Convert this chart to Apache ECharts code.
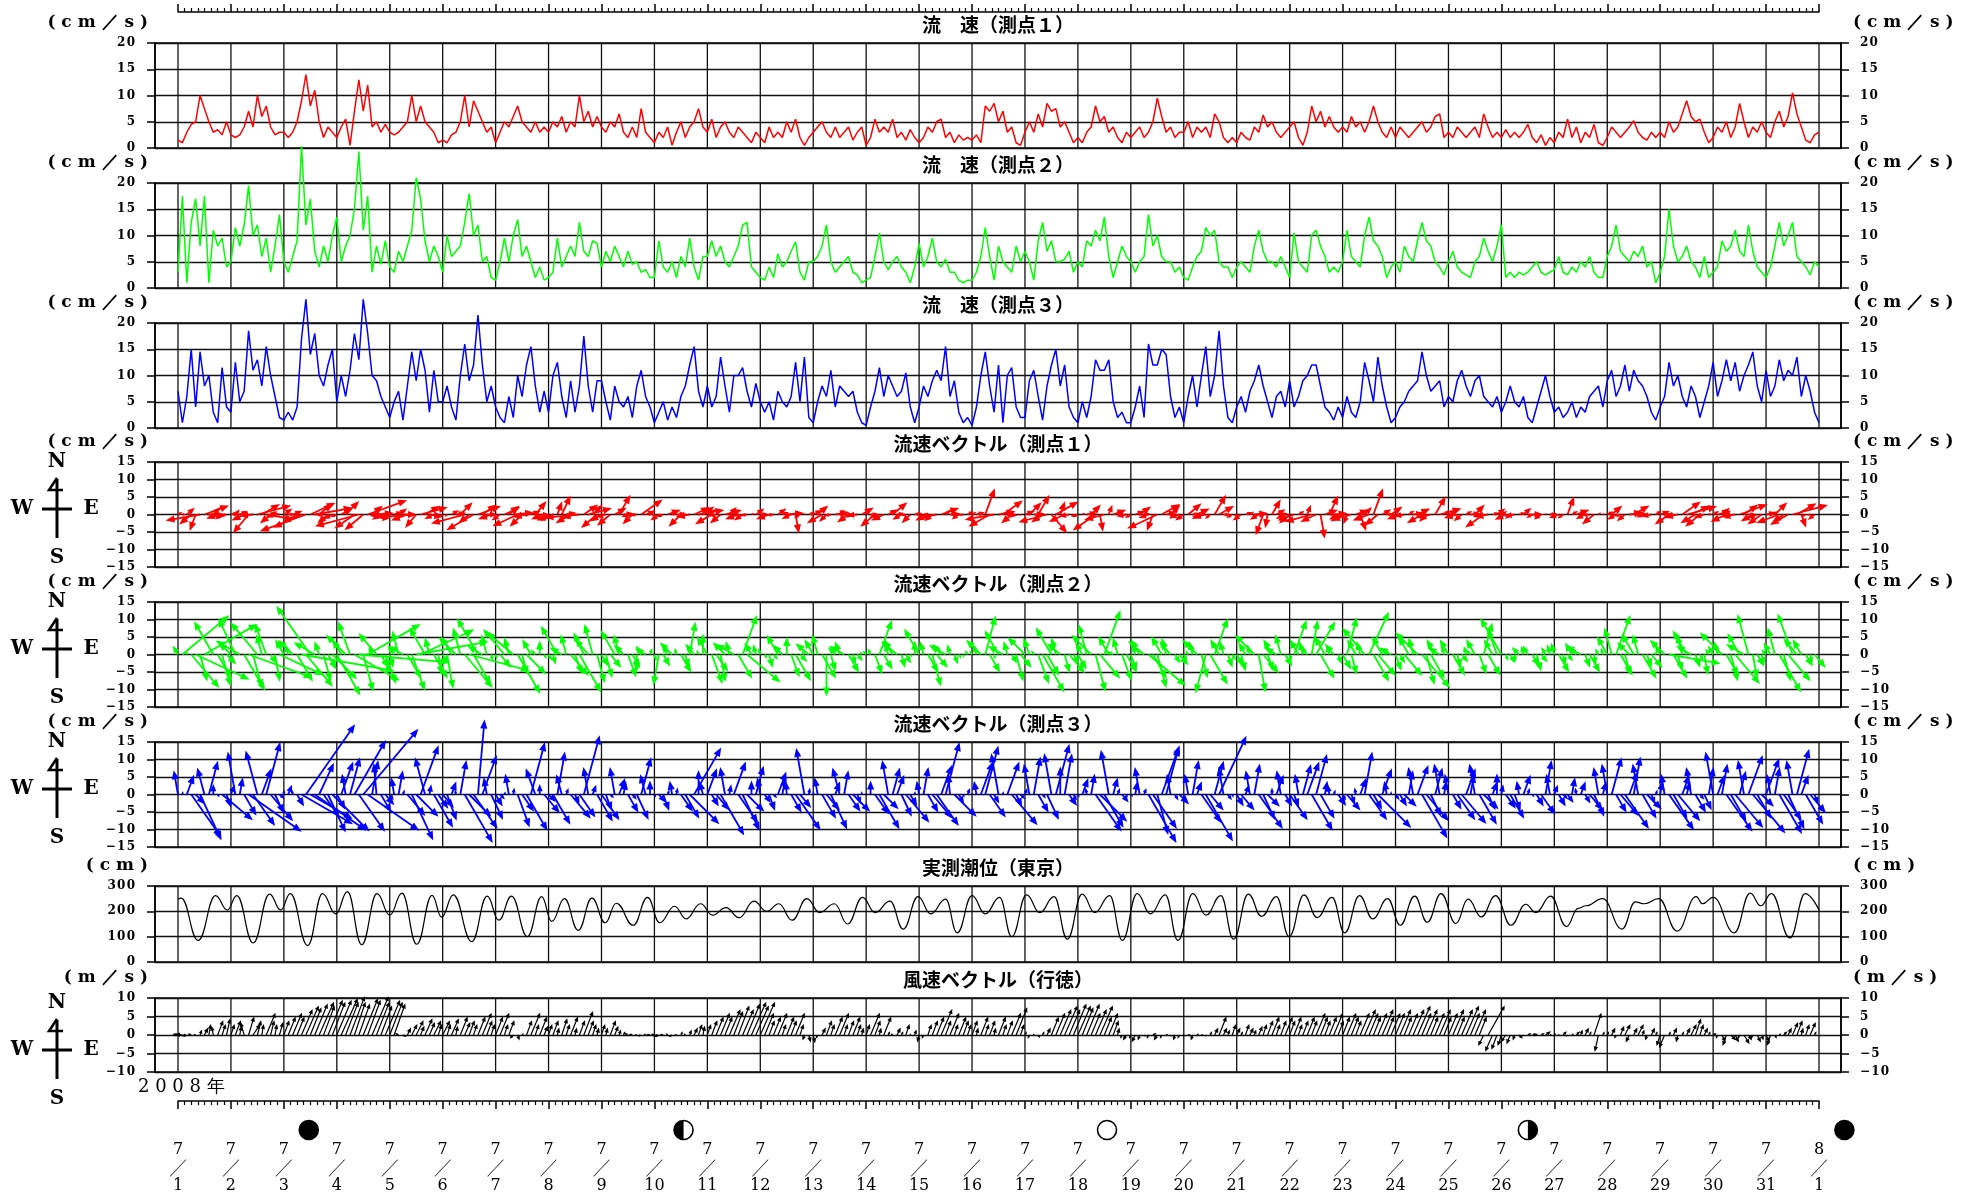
<!DOCTYPE html>
<html><head><meta charset="utf-8">
<script src="https://cdn.jsdelivr.net/npm/echarts/dist/echarts.min.js"></script>
<style>html,body{margin:0;padding:0;background:#fff}#c{width:1970px;height:1200px}</style>
</head><body><div id="c"></div>
<script>
// ---------------- DATA (2-hour samples from 2008-07-01 00:00) ----------------
const dateLabels = ['7/1','7/2','7/3','7/4','7/5','7/6','7/7','7/8','7/9','7/10','7/11','7/12','7/13','7/14','7/15','7/16',
  '7/17','7/18','7/19','7/20','7/21','7/22','7/23','7/24','7/25','7/26','7/27','7/28','7/29','7/30','7/31','8/1'];
const samplesPerDay = 12;

// current speed (cm/s), station 1
const speed1 = [
1.5,1,3,4.5,5,10,7.5,5,3,3.5,2.5,5,
2.5,2,2.5,4,7,4,10,6,8,4,2.5,3,
3,2,3,5,9,14,8,11,5,2,4,3,
2,4,5.5,0.5,7,13,7,12,4,5,3,4.5,
3,2.5,3,4,5,10,5,8,5,4,3,1,
1.5,1,2.5,3,5,10,4,9,7,5,3,4,
1,3,5,4,6,8,5,4,3,5,3,4,
3,5,4,6,3,5,4,10,5,7,4,6,
4,3,5,4,6.5,3,2,4,2,7.5,3,2,
1,3,2,4,0.5,3,5,2,4,5,7.5,4,
3,5.5,2,4,5,3,2,4,3,2,1,3,
2,1,4,2,3,2,5,3,5.5,2,0.5,2,
3,4,5,3,2,4,2,3,4,1.5,3,4,
0.5,2,5.5,3,4,3,5.5,2,3,1.5,3.5,2,
1,2,4,3,5,5.5,2,3,1,2.5,1.5,2,
1.5,2.5,1,8,7,8.5,5,7,3,4,1,0.5,
3,5,3,6.5,4,8.5,7,7.5,4,5,3,1,
2,1,3,4,8,5,6,3,4,2,1,3,
2,3,4,2,3,5,9.5,6,3,4,2,3,
3,5,2,4,3,4,2,6.5,5,2,1,2,
1,3,2,1.5,4,3,6.3,4,5,3,2,3,
4,5,2,0.5,3,8,5,7,4,6,4,3,
4,3,6,4,5,3,5,8,5,3,2,4,
2,4,3,2,3,4,5,3,4,6,6.5,2,
3,2,4,3,2,3,4,2,6.5,4,2,3,
2,3.5,2,3,2,3,4.5,2,1,2.5,0.5,2,
1,3,2,5.5,2,4,1,3,2,4.5,1,0.5,
2,4,3,2,3,4,5.2,3,2,1.5,3,2,
3,2,5,3,4,6.5,9,6,5,5.5,3,1,
2,4,3,5,2,4,8.5,5,2,4,3,5,
3,2,5,7,4,6,10.5,6.5,4,1.5,1,2.5,
3];

// current speed (cm/s), station 2
const speed2 = [
3,17.5,1,12.5,17,8,17.5,1,11,8,9.5,4,
5,11.5,8,12,19.5,10,12,6,9.5,3,8,14,
5,3,6,9,27,12,17,7,4,8,5,10,
13.5,5,8,10,15,26,11,17.5,3,8,4.5,9,
4,3,7,5,8,11,21,17,9,5,8,6,
3,10,6,7,8,12.5,18,10,12,5,6,2,
1.5,5,9.5,5,10,13,6,8,5,2,4,1.5,
2,3,9.5,4,6,8,6,12.5,7,6,9,8.5,
4,7,5,8,6,4,7,4.5,5,3,3.5,2,
2,9,4,3,5,2,6,4,9.5,4,1.5,6,
6,9,6,8,5,4,6,8,12,12.5,4,3,
2,1.5,4,2,6.5,4,5,7,8.8,3,1.5,5,
5,6,8,12,5,3,4,5,6,3,2.5,1,
1.5,2,6,10.5,5,3.5,5,6,4,3,1,4,
8.5,4,6,9.5,5,4,5.5,3,3,1.5,1,1.5,
1.5,3,6,11.5,6,1.5,8,5,4,3,8,5,
7,5,1.5,9,12.5,7,9,5,5,5.5,7,3,
5,4,9,8,11,9,13.5,6,2,5,8,6,
5,3,5,6,14,8,10,6,5,5,3,4,
2,1.5,4,6,7,11.5,10,11,5,4,4,2,
4,5,4,3,8,11,7,5,5,4,6,4,
2,10.5,5,4,3,10,11,8,6,3,4,3,
5,11,6,5,4,10,13.5,9,8,6,2,4,
5,3,8,6,5,9,12.5,9,8,5,4,2.5,
5,7,4,3,2.5,2,5,6,9.5,7,5,8,
12,2,3,2,3,2.5,3,4,5,3,2.5,3,
3.5,6,3,2.5,4,3,5,4,6,3,2,2,
6,8,12,7,6,5,7,6,8,4,5,1,
3,6,15,8,5,6,8,5,4,2,6,2,
3,4,9,7,8,11,7,6,12,7,4,3,
2,4,8,12.5,8,10,12.5,6,5,4,2.5,5,
4];

// current speed (cm/s), station 3
const speed3 = [
7,1,6,15,4,14.5,8,10,3,1,11.5,4,
3,12.5,5,7,18.5,11,13,8,15.5,10,6,2,
1.5,3,1.5,4,17,24.5,14,18,10,8,12,15,
5,10,6,11,18,13,24.5,18,10,9,6,4,
2,5,7,1.5,8,14.5,9,15,11,3,11,5,
5,8,4,1.5,10,16,9,12,21.5,12,5,8,
4,2,1,6,2,10,6,12,15.5,8,3,7,
3,10,12.5,6,2,9,3,8,17.5,8,3,9,
9,5,1.5,8,5,4,6,2,8,11,6,4,
1,3,5,1.5,4,2,6,8,12,15.5,7,4,
8,4,6,13.5,8,3,10,10,11.5,7,4,8.5,
5,3,5,1.5,7,5,4,6,12.5,5,13.5,2,
1,5,8,6,11,4,8,7,6,7,3,1,
0.5,4,7,11.5,6,10,8,6,7,10.5,4,1,
4,8,6,9,11,9,15.5,6,9,3,1,2,
0.5,4,10,14.5,8,3,12,1,10,11.5,4,2,
2,9,11,6,1.5,8,12,15,8,12,4,2,
1,5,2,6,13,11,11,13,5,2,3,1,
1,4,8,2,16,12,12,15,14,6,2,4,
1,6,10,4,10,15.5,6,10,18.5,8,2,1,
4,6,3,7,9,12,8,5,2,6,7,4,
9,4,6,9,10,12,12,8,4,3,1.5,4,
2,6,3,2,5,12.5,9,5,13.5,8,4,1,
2,4,5,7,8,9,14.5,10,7,8,9,4,
6,5,9,11,8,6,9,10,6,5,4,6,
3,5,8,5,4,6,2,1,4,7,10,6,
3,4,2,3,5,2,4,3,6,7,8,4,
9,11,6,8,12,7,11,9,8,6,3,1.5,
4,6,12.5,8,10,6,4,8,6,2,5,8,
12.5,6,9,13,9,12.5,7,10,12,14.5,8,5,
11,6,8,13,9,11,10,13.5,6,10,7,3,
1];

// current direction (degrees clockwise from north, flow towards), stations 1-3
const dir1 = [
60,85,50,230,200,260,70,95,45,250,235,270,
80,40,65,245,220,265,75,60,100,230,250,280,
55,90,70,240,245,250,65,80,50,260,230,245,
250,60,45,80,235,255,230,70,50,85,240,265,
230,70,55,90,250,265,220,75,60,100,245,260,
240,225,60,80,45,255,230,240,70,55,90,250,
250,235,65,50,85,245,225,260,70,40,95,250,
230,250,20,25,80,240,255,265,55,75,45,230,
240,255,230,60,30,85,250,225,265,55,70,45,
260,235,250,70,50,90,225,245,260,65,80,55,
60,240,255,230,75,45,90,250,235,260,70,55,
80,230,250,265,55,70,85,245,170,240,60,75,
65,50,240,225,260,80,45,95,235,250,265,60,
70,85,230,255,245,60,50,75,240,260,225,80,
55,90,245,230,260,70,45,85,250,235,265,60,
60,75,50,20,240,260,80,55,95,230,250,245,
70,45,85,30,235,255,140,60,20,245,260,230,
250,60,80,45,235,170,255,20,70,55,240,260,
240,70,55,85,250,200,245,60,75,45,230,255,
235,50,80,65,245,260,230,30,60,90,250,240,
250,235,70,55,85,240,200,190,30,60,80,245,
230,250,60,75,20,255,245,170,70,25,85,240,
240,200,255,70,160,45,250,20,230,60,85,55,
235,250,260,55,80,65,240,225,255,30,75,50,
70,240,255,230,60,85,45,250,235,260,75,55,
60,245,230,260,75,50,90,240,255,235,65,80,
85,250,235,20,60,70,45,245,260,230,55,75,
65,50,240,255,230,80,60,90,245,235,260,55,
70,85,235,250,260,55,75,65,240,230,255,80,
60,75,50,245,230,260,70,55,85,240,250,235,
80,65,45,250,235,240,75,60,160,245,260,230];

const dir2 = [
330,50,345,140,115,165,60,300,330,150,165,135,
315,335,300,150,110,165,320,345,340,150,170,115,
330,345,315,150,100,140,325,300,340,165,150,135,
150,330,315,340,120,95,165,60,345,320,150,160,
165,320,345,300,150,160,80,65,330,345,150,170,
150,170,330,315,345,140,105,150,330,300,345,165,
160,140,320,345,310,150,165,135,330,315,0,150,
150,165,330,300,345,140,160,150,335,320,345,165,
150,165,140,330,345,315,160,150,180,330,300,20,
165,190,150,330,315,345,150,165,10,320,340,0,
330,160,145,170,315,345,300,150,20,130,330,345,
345,150,165,140,330,315,0,160,150,135,330,310,
330,345,150,180,165,315,340,300,150,165,140,330,
320,335,160,20,150,345,330,310,165,150,140,0,
330,345,150,165,140,320,300,345,160,150,170,330,
330,345,315,15,150,165,330,300,345,150,165,140,
315,340,330,160,150,150,330,345,310,165,140,150,
150,330,345,315,165,140,20,330,300,345,160,150,
160,345,330,310,130,150,165,330,345,320,150,140,
150,330,345,315,165,195,150,20,330,345,160,150,
150,165,330,345,315,170,140,160,330,300,345,150,
165,20,330,345,315,10,30,150,330,345,320,160,
150,15,165,330,345,320,25,150,140,330,345,300,
160,150,140,330,345,315,140,165,150,330,300,345,
330,150,165,140,345,315,330,160,15,150,330,340,
330,160,150,170,315,345,330,150,165,140,330,345,
345,150,165,140,330,315,300,160,150,170,330,345,
330,345,20,150,165,315,330,345,150,160,140,330,
330,315,100,150,165,345,330,300,160,150,170,330,
330,345,315,150,165,140,330,300,345,170,150,165,
315,330,345,150,165,140,340,320,330,150,165,140];

const dir3 = [
350,10,20,145,135,155,345,15,0,150,130,160,
20,350,10,150,125,145,345,20,15,140,155,130,
0,20,350,150,120,35,120,125,25,145,155,135,
150,20,350,15,30,145,40,125,10,355,150,140,
145,350,10,20,140,155,135,20,345,10,150,145,
140,160,20,350,10,150,135,145,5,20,350,155,
150,135,20,350,10,160,145,150,15,340,0,140,
135,150,10,345,20,140,155,145,15,350,20,150,
145,160,135,350,20,10,150,140,155,15,345,0,
150,140,160,20,350,10,145,150,135,30,0,345,
20,150,140,150,350,10,20,145,155,135,0,15,
350,145,160,135,20,10,355,150,145,140,350,10,
10,350,150,140,155,20,345,10,145,135,160,0,
20,0,145,150,135,350,15,20,155,140,150,10,
350,10,150,140,145,20,15,355,135,150,160,20,
10,350,20,15,145,150,350,10,20,140,155,135,
20,350,10,150,140,155,350,15,0,10,145,150,
150,20,350,10,145,135,150,350,15,20,140,160,
140,10,350,20,150,145,165,20,15,350,150,135,
150,350,10,20,145,150,140,15,25,350,145,160,
150,140,20,350,10,145,155,135,0,20,350,150,
145,160,350,15,20,150,15,150,10,350,20,145,
150,140,160,350,20,10,145,150,135,20,350,0,
145,150,135,10,350,20,150,140,155,15,350,10,
350,150,145,140,20,10,350,150,135,155,20,0,
10,145,150,160,350,20,15,140,150,145,10,350,
20,150,135,145,10,350,20,150,140,155,350,15,
350,15,150,140,145,20,10,350,150,135,160,20,
10,350,145,150,140,20,15,350,150,140,155,10,
350,20,10,145,150,140,15,350,20,140,150,135,
20,350,10,150,145,155,350,15,20,150,140,160];

// tide level, Tokyo (cm): turning points
const tideDay = [0,0.06,0.38,0.71,0.93,1.11,1.42,1.73,1.94,2.12,2.45,2.73,2.98,3.2,3.47,3.76,4.0,4.23,4.51,4.8,4.98,5.2,5.55,5.84,6.06,6.3,6.6,6.87,7.06,7.3,7.56,7.82,8.07,8.28,8.6,8.87,9.1,9.38,9.6,9.87,10.1,10.35,10.6,10.88,11.12,11.35,11.6,11.88,12.12,12.4,12.65,12.93,13.17,13.45,13.7,13.98,14.22,14.5,14.72,15.0,15.25,15.52,15.75,16.03,16.28,16.55,16.8,17.08,17.32,17.6,17.84,18.12,18.37,18.65,18.89,19.17,19.42,19.7,19.94,20.22,20.47,20.75,20.99,21.27,21.52,21.8,22.04,22.32,22.57,22.85,23.09,23.36,23.6,23.86,24.14,24.37,24.62,24.89,25.18,25.46,25.65,25.93,26.23,26.45,26.6,26.91,27.28,27.53,27.7,27.97,28.32,28.68,28.8,29.0,29.4,29.7,29.9,30.1,30.45,30.74,31.0];
const tideLevel = [248,252,85,262,205,262,75,268,205,270,65,270,190,278,68,270,185,272,70,263,177,265,80,260,165,260,100,258,160,250,125,252,155,232,145,255,155,220,170,230,185,215,175,240,200,230,165,250,195,230,150,255,195,240,130,258,190,248,115,262,190,255,100,265,195,258,90,268,195,262,85,270,190,265,85,270,185,262,90,268,180,258,100,265,175,255,115,262,170,250,145,260,157,270,152,248,178,262,145,228,195,260,140,212,222,250,130,237,230,250,122,258,230,255,115,272,222,270,95,270,205];

// wind vector, Gyotoku (m/s): east and north components
const windU = [
-1.5,-2,-1.5,-1,-0.5,0.5,1,0.5,-0.5,1.5,1,1,
1,1.5,0.5,-1,1.5,2,1,0.5,2.5,1,0.5,1,
1.5,2,2.5,2,3,3.5,3,3.5,4,3,4,3.5,
4,4.5,3.5,4,3,3,4,3.5,4.5,3.5,3,4,
3.5,3,-1,1,1,1.5,2,1,2,1.5,2,1,
2,1,2,0.5,2,1.5,1.5,1,2,2.5,1.5,1,
2,2.5,1,1.5,-1,0.5,0.5,1.5,2.5,1,2,1,
1,1.5,0.5,1.5,1,2,0.5,1.5,2.5,1.5,1,0.5,
1,0.5,1.5,1,0.5,0.5,-1,-1,-0.5,-1,-0.5,-1,
-1,-1.5,-1,-0.5,-1,-0.5,0.5,-0.5,0.5,1,1,0.5,
1,1.5,2,2.5,2,3,2.5,3,3,3.5,4,3.5,
4,2.5,1.5,2,2.5,1,2,1.5,2.5,1,-0.5,0.5,
0.5,-0.5,1,1.5,1,2,2.5,1,1.5,2,1,0.5,
1,2.5,1.5,0.5,2,0.5,-0.5,1,0.5,1,0,0.5,
-0.5,-0.5,1,1.5,2,3,1.5,2.5,1,2,1.5,1,
1.5,0.5,2,1,1.5,0.5,2,1,1.5,2.5,3,1,
0.5,-0.5,0,0.5,0.5,1,2,2.5,3,3.5,3,3.5,
3.5,3,3.5,2.5,3,3.5,2,2.5,1.5,0.5,-0.5,-1,
-0.5,-1,-0.5,0.5,-0.5,1,-1,-0.5,0.5,0,-0.5,-0.5,
0,0.5,-0.5,0.5,0.5,0,0.5,1,2,1,0.5,1,
1,0.5,1,1,0.5,1,1,1.5,2,1,1.5,2,
1.5,2,1,1.5,2,1.5,2.5,2,1.5,2,2.5,1.5,
2,2.5,2,1.5,2.5,3,2.5,2,2.5,3,2,2.5,
2.5,3,2,2.5,3,3.5,2.5,3,2,2.5,3,2,
2.5,3,2,3,3.5,2.5,3,2,-1.5,4.5,-2,-1.5,
-1,-1.5,-1,-0.5,1,-0.5,1,1.5,0.5,1,1.5,0.5,
0.5,0,1,-0.5,0.5,1,0.5,1,0.5,2,-1,0.5,
0.5,1,-0.5,1,1.5,-1,1,1.5,0.5,-0.5,1,0.5,
-1,-1.5,0.5,1,-0.5,0.5,1,1.5,1.5,1,1,0.5,
1,-0.5,1,-1,1.5,1,-0.5,1.5,1,-0.5,1,0.5,
1,-1,0.5,0.5,1,1,1.5,1.5,0.5,1,1.5,0.5];
const windV = [
0.3,0.2,-0.3,0.4,0.3,1.5,2,3,2.5,4,3,4.5,
3,4,2.5,3.5,5,3,4,3,6,4,3,3.5,
4,5,6,5,7,8,7.5,8.5,9,8,9.5,9,
9.5,10,9,10.5,9,8.5,10,9.5,10.5,9,8,9.5,
9,8.5,0.5,-0.5,2,3,4,2.5,4.5,3.5,4,3,
4,3,4.5,2.5,5,3.5,4,3,5,6,4,3,
5,6,3,4,-1,-1.5,0.5,4,6,3,5,2.5,
3,4,2,4.5,3,5,2,4,6.5,4,3,2,
3,2,4,2.5,1.5,1,0.5,0.3,0.2,-0.3,0.4,0.2,
0.3,-0.4,0.2,0.5,-0.5,0.3,1,0.5,1.5,2,3,2.5,
3,4,5,6,5,7,6.5,8,7,8.5,9,8,
9,6,4,5,6,3,5,4,6,3,-1.5,-2,
-2.2,-1,2,4,3,5,6,3,4,5,3,2,
3,6,4,2,5,1,0.5,2,1,3,0.5,1.5,
-2,-1,3,4,5,7,4,6,3,5,4,3,
4,2,5,3,4,2,5,3,4,6,7.5,3,
1,-1,0.5,-0.8,1,2,5,6,7,8,7,8.5,
8,7.5,8.5,6,7,8,5,6,4,2,-1,-1.5,
-1,-2,-1.5,-0.5,-1,0.5,-1.5,-1,0.3,-0.5,-1.5,-1,
-0.5,0.3,-1.5,0.5,0.2,-0.5,1,2,5,2,1.5,3,
2,1,3,2,1.5,2.5,3,4,5,3,4,5,
4,5,3,4,5,4,6,5,4,5,6,4,
5,6,5,4,6,7,6,5,6,7,5,6,
6,7,5,6,7,8,6,7,5,6,7,5,
6,7,5,7,8,6,7,5,-3,8,-4.5,-4,
-3,-2,-2.5,-1.5,-1,-0.5,0.5,0.3,-0.3,0.5,1,0.3,
0.5,0.3,1,-0.5,0.5,1,1.5,2,1,6,-4.5,1,
1,2,-1,2.5,3,-2,2,3,1.5,-1.5,2,1,
-3,-3.5,1,2,-2,1,2,3,4.5,3,2,1,
0.5,-1,-2,-3,-1.5,-2,-1,-2.5,-1.5,-1,-2,-1.5,
-2,-3,-1,0.5,1,2,3.5,4,2,3,3.5,1];

// moon phases: day offset from 7/1 00:00, phase 0=new 1=first quarter 2=full 3=last quarter
const moonDay = [2.47, 9.55, 17.55, 25.5, 31.48];
const moonPhase = [0, 1, 2, 3, 0];

// ---------------- LAYOUT ----------------
const XMIN = -0.4345, XMAX = 31.4156;
const PANELS = [
  {top:43,  h:105, min:0,   max:20,  step:5,   unit:'( c m ／ s )', title:'流　速（測点１）'},
  {top:183, h:105, min:0,   max:20,  step:5,   unit:'( c m ／ s )', title:'流　速（測点２）'},
  {top:323, h:105, min:0,   max:20,  step:5,   unit:'( c m ／ s )', title:'流　速（測点３）'},
  {top:462, h:105, min:-15, max:15,  step:5,   unit:'( c m ／ s )', title:'流速ベクトル（測点１）', compass:true},
  {top:602, h:105, min:-15, max:15,  step:5,   unit:'( c m ／ s )', title:'流速ベクトル（測点２）', compass:true},
  {top:742, h:105, min:-15, max:15,  step:5,   unit:'( c m ／ s )', title:'流速ベクトル（測点３）', compass:true},
  {top:886, h:76,  min:0,   max:300, step:100, unit:'( c m )',      title:'実測潮位（東京）'},
  {top:998, h:74,  min:-10, max:10,  step:5,   unit:'( m ／ s )',   title:'風速ベクトル（行徳）', compass:true, wind:true}
];
const SERIF = '"DejaVu Serif", "Liberation Serif", serif';
const CJK = '"Noto Sans CJK JP", "Noto Sans", sans-serif';
const fmtNum = v => String(v).replace('-', '\u2212').split('').join('\u200a');

const grids = [], xAxes = [], yAxes = [], series = [], graphics = [];
PANELS.forEach((p, i) => {
  grids.push({left:155, width:1686, top:p.top, height:p.h, show:true, borderColor:'#000', borderWidth:1.5,
    backgroundColor:'rgba(0,0,0,0)', containLabel:false, outerBoundsMode:'none'});
  xAxes.push({gridIndex:i, type:'value', min:XMIN, max:XMAX, show:false});
  const lab = {show:true, color:'#000', fontFamily:SERIF, fontWeight:'bold', fontSize:12, formatter:fmtNum};
  yAxes.push({gridIndex:i, type:'value', min:p.min, max:p.max, interval:p.step, position:'left',
    axisLine:{show:true, onZero:false, lineStyle:{color:'#000', width:1.5}},
    axisTick:{show:true, length:8, lineStyle:{color:'#000', width:1.5}},
    axisLabel:Object.assign({margin:20}, lab),
    splitLine:{show:true, lineStyle:{color:'#111', width:1.3}}});
  yAxes.push({gridIndex:i, type:'value', min:p.min, max:p.max, interval:p.step, position:'right',
    axisLine:{show:true, onZero:false, lineStyle:{color:'#000', width:1.5}},
    axisTick:{show:true, length:8, lineStyle:{color:'#000', width:1.5}},
    axisLabel:Object.assign({margin:19}, lab),
    splitLine:{show:false}});
  // day grid lines
  series.push({type:'custom', xAxisIndex:i, yAxisIndex:2*i, z:1, silent:true, clip:false,
    data: dateLabels.map((_, d) => [d, p.min]),
    renderItem: (params, api) => {
      const d = api.value(0);
      const a = api.coord([d, p.min]), b = api.coord([d, p.max]);
      return {type:'line', shape:{x1:a[0], y1:a[1], x2:b[0], y2:b[1]}, style:{stroke:'#111', lineWidth:1.3}};
    }});
  // titles and units
  graphics.push({type:'text', x:998, y:p.top - 18, z:10, style:{text:p.title, font:'bold 19px ' + CJK, fill:'#000',
    align:'center', verticalAlign:'middle', textAlign:'center', textVerticalAlign:'middle'}});
  const uy = p.top - 20;
  graphics.push({type:'text', x:148, y:uy, z:10, style:{text:p.unit, font:'bold 17px ' + SERIF, fill:'#000',
    align:'right', verticalAlign:'middle', textAlign:'right', textVerticalAlign:'middle'}});
  graphics.push({type:'text', x:1853, y:uy, z:10, style:{text:p.unit, font:'bold 17px ' + SERIF, fill:'#000',
    align:'left', verticalAlign:'middle', textAlign:'left', textVerticalAlign:'middle'}});
  if (p.compass) {
    const cy = p.wind ? p.top + 52 : p.top + 47, cx = 57;
    const L = (x1,y1,x2,y2) => graphics.push({type:'line', z:10, shape:{x1,y1,x2,y2}, style:{stroke:'#000', lineWidth:3}});
    L(cx, cy - 30, cx, cy + 29);
    L(42, cy, 72, cy);
    graphics.push({type:'polyline', z:10, shape:{points:[[cx, cy-31],[cx-8, cy-19],[cx+6, cy-19]]}, style:{stroke:'#000', lineWidth:2.5, fill:null}});
    const T = (t, x, y) => graphics.push({type:'text', x, y, z:10, style:{text:t, font:'bold 20px ' + SERIF, fill:'#000',
      align:'center', verticalAlign:'middle', textAlign:'center', textVerticalAlign:'middle'}});
    T('N', cx, cy - 47); T('S', cx, cy + 49); T('W', 22, cy); T('E', 91, cy);
  }
});

// rulers (top: grid 8, bottom: grid 9)
grids.push({left:178, width:1641, top:11, height:1, containLabel:false, outerBoundsMode:'none'});
grids.push({left:178, width:1641, top:1100, height:1, containLabel:false, outerBoundsMode:'none'});
const rulerAxis = (gi, inside, labels) => ({gridIndex:gi, type:'value', min:0, max:dateLabels.length - 1, interval:1, position:'bottom',
  axisLine:{show:true, onZero:false, lineStyle:{color:'#000', width:1.5}},
  axisTick:{show:true, inside:inside, length:8, lineStyle:{color:'#000', width:1.5}},
  minorTick:{show:true, splitNumber:8, length:4, lineStyle:{color:'#000', width:1.2}},
  splitLine:{show:false}, minorSplitLine:{show:false},
  axisLabel: labels ? {show:true, interval:0, margin:40, showMinLabel:true, showMaxLabel:true,
    formatter: v => { const s = dateLabels[Math.round(v)].split('/'); return '{m|' + s[0] + '}\n{s|╱}\n{m|' + s[1] + '}'; },
    rich:{m:{fontFamily:SERIF, fontSize:16, lineHeight:18, color:'#000'},
          s:{fontFamily:CJK, fontSize:16, fontWeight:'bold', lineHeight:18, color:'#000'}}}
    : {show:false}});
xAxes.push(rulerAxis(8, true, false));
xAxes.push(rulerAxis(9, false, true));
yAxes.push({gridIndex:8, type:'value', min:0, max:1, show:false});
yAxes.push({gridIndex:9, type:'value', min:0, max:1, show:false});

graphics.push({type:'text', x:138, y:1087, z:10, style:{text:'2 0 0 8 年', font:'18px ' + SERIF, fill:'#000',
  align:'left', verticalAlign:'middle', textAlign:'left', textVerticalAlign:'middle'}});

// ---------------- SERIES ----------------
const t = i => i / samplesPerDay;
const speedColors = ['#ff0000', '#00ff00', '#0000ff'];
[speed1, speed2, speed3].forEach((s, k) => {
  series.push({type:'line', xAxisIndex:k, yAxisIndex:2*k, z:3, clip:false, symbol:'none', silent:true,
    lineStyle:{color:speedColors[k], width:1.5}, data:s.map((v, i) => [t(i), v])});
});

function arrowRenderer(color, lw, hl0, hw0) {
  return function (params, api) {
    const tt = api.value(0), u = api.value(1), v = api.value(2);
    const b = api.coord([tt, 0]);
    const k = api.size([0, 1])[1];
    const tx = b[0] + u * k, ty = b[1] - v * k;
    const dx = tx - b[0], dy = ty - b[1];
    const len = Math.sqrt(dx * dx + dy * dy);
    if (len < 0.3) return {type:'group', children:[]};
    const ux = dx / len, uy = dy / len;
    const hl = Math.min(hl0, len * 0.7), hw = hw0 * hl / hl0;
    const bx = tx - ux * hl, by = ty - uy * hl;
    return {type:'group', children:[
      {type:'line', shape:{x1:b[0], y1:b[1], x2:bx + ux * 0.5, y2:by + uy * 0.5}, style:{stroke:color, lineWidth:lw}},
      {type:'polygon', shape:{points:[[tx, ty], [bx - uy * hw, by + ux * hw], [bx + uy * hw, by - ux * hw]]}, style:{fill:color}}
    ]};
  };
}
const rad = Math.PI / 180;
[[speed1, dir1], [speed2, dir2], [speed3, dir3]].forEach(([s, d], k) => {
  const gi = 3 + k;
  const data = d.map((deg, i) => [t(i), s[i] * Math.sin(deg * rad), s[i] * Math.cos(deg * rad)]);
  series.push({type:'custom', xAxisIndex:gi, yAxisIndex:2*gi, z:3, clip:false, silent:true,
    encode:{x:0, y:2}, data, renderItem:arrowRenderer(speedColors[k], 1.8, 9, 3.6)});
});

series.push({type:'line', xAxisIndex:6, yAxisIndex:12, z:3, clip:false, symbol:'none', silent:true, smooth:0.45, smoothMonotone:'x',
  lineStyle:{color:'#000', width:1.2}, data:tideDay.map((d, i) => [d, tideLevel[i]])});

series.push({type:'custom', xAxisIndex:7, yAxisIndex:14, z:3, clip:false, silent:true, encode:{x:0, y:2},
  data:windU.map((u, i) => [t(i), u, windV[i]]), renderItem:arrowRenderer('#000', 1.2, 5, 2.2)});

series.push({type:'custom', xAxisIndex:9, yAxisIndex:17, z:5, clip:false, silent:true,
  data:moonDay.map((d, i) => [d, moonPhase[i]]),
  renderItem:(params, api) => {
    const c = api.coord([api.value(0), 0]);
    const cx = c[0], cy = c[1] + 29, r = 9.5, ph = api.value(1);
    const kids = [{type:'circle', shape:{cx, cy, r}, style:{fill: ph === 0 ? '#000' : '#fff', stroke:'#000', lineWidth:1.6}}];
    if (ph === 1) kids.push({type:'sector', shape:{cx, cy, r0:0, r, startAngle:Math.PI/2, endAngle:Math.PI*1.5, clockwise:true}, style:{fill:'#000'}});
    if (ph === 3) kids.push({type:'sector', shape:{cx, cy, r0:0, r, startAngle:-Math.PI/2, endAngle:Math.PI/2, clockwise:true}, style:{fill:'#000'}});
    return {type:'group', children:kids};
  }});

const chart = echarts.init(document.getElementById('c'));
chart.setOption({animation:false, backgroundColor:'#fff', textStyle:{fontFamily:SERIF},
  grid:grids, xAxis:xAxes, yAxis:yAxes, series, graphic:graphics});
</script></body></html>
